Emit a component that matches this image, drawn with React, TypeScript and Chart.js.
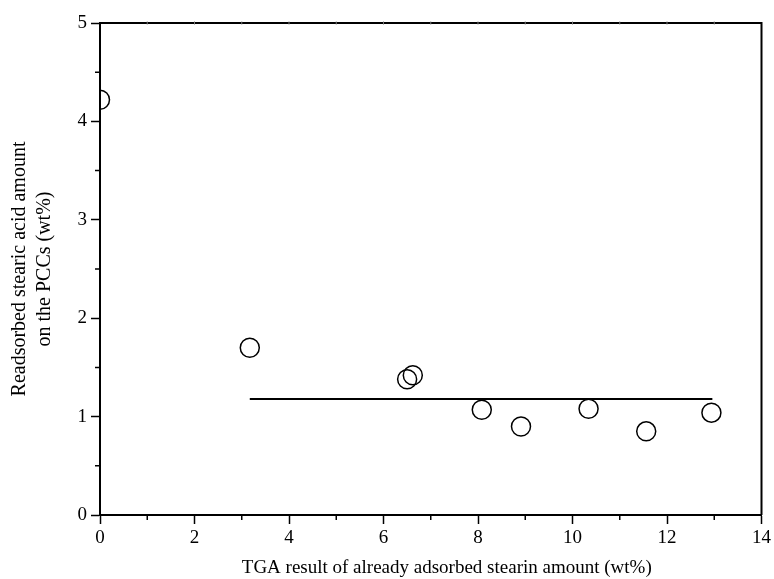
import React, { useEffect, useRef } from "react";
import { Chart, registerables } from "chart.js";

Chart.register(...registerables);

const xValues = [0, 3.17, 6.5, 6.62, 8.08, 8.91, 10.34, 11.56, 12.94];
const yValues = [4.22, 1.7, 1.38, 1.42, 1.07, 0.9, 1.08, 0.85, 1.04];
const fitX = [3.17, 12.96];
const fitY = [1.18, 1.18];
const xMinorTicks = [1, 3, 5, 7, 9, 11, 13];
const yMinorTicks = [0.5, 1.5, 2.5, 3.5, 4.5];
const topTicks = [1, 2, 3, 4, 5, 6, 7, 8, 9, 10, 11, 12, 13];
const xTitle = "TGA result of already adsorbed stearin amount (wt%)";
const yTitle = ["Readsorbed stearic acid amount", "on the PCCs (wt%)"];

const FONT = "'Liberation Serif', 'Times New Roman', serif";

const framePlugin = {
  id: "frame",
  afterDraw(chart: any) {
    const { ctx, chartArea, scales } = chart;
    const xs = scales.x;
    const ys = scales.y;
    ctx.save();
    ctx.strokeStyle = "#000";
    ctx.lineWidth = 2;
    ctx.beginPath();
    ctx.moveTo(chartArea.left, chartArea.top);
    ctx.lineTo(chartArea.right, chartArea.top);
    ctx.lineTo(chartArea.right, chartArea.bottom);
    ctx.stroke();
    ctx.lineWidth = 1.5;
    ctx.beginPath();
    for (const v of xMinorTicks) {
      const px = xs.getPixelForValue(v);
      ctx.moveTo(px, chartArea.bottom);
      ctx.lineTo(px, chartArea.bottom + 5);
    }
    for (const v of yMinorTicks) {
      const py = ys.getPixelForValue(v);
      ctx.moveTo(chartArea.left, py);
      ctx.lineTo(chartArea.left - 5, py);
    }
    ctx.stroke();
    ctx.lineWidth = 1;
    ctx.strokeStyle = "#777";
    ctx.beginPath();
    for (const v of topTicks) {
      const px = xs.getPixelForValue(v);
      ctx.moveTo(px, chartArea.top - 1.5);
      ctx.lineTo(px, chartArea.top + 1.5);
    }
    ctx.stroke();
    // x-axis title (slightly right of the plot centre, as in the source figure)
    ctx.fillStyle = "#000";
    ctx.font = `19px ${FONT}`;
    ctx.textAlign = "center";
    ctx.textBaseline = "middle";
    ctx.fillText(xTitle, (chartArea.left + chartArea.right) / 2 + 16, xs.bottom - 11);
    ctx.restore();
  },
};

export default function App() {
  const ref = useRef<HTMLCanvasElement>(null);
  useEffect(() => {
    if (!ref.current) return;
    const chart = new Chart(ref.current, {
      type: "scatter",
      data: {
        datasets: [
          {
            label: "fit",
            type: "line",
            data: fitX.map((x, i) => ({ x, y: fitY[i] })),
            borderColor: "#000",
            borderWidth: 2,
            pointRadius: 0,
            fill: false,
          } as any,
          {
            label: "data",
            data: xValues.map((x, i) => ({ x, y: yValues[i] })),
            pointStyle: "circle",
            pointRadius: 9.5,
            pointBorderWidth: 1.5,
            pointBorderColor: "#000",
            pointBackgroundColor: "rgba(255,255,255,0)",
            showLine: false,
          },
        ],
      },
      options: {
        animation: false,
        responsive: false,
        maintainAspectRatio: false,
        layout: { padding: { top: 23, right: 11, left: 0, bottom: 0 } },
        plugins: {
          legend: { display: false },
          tooltip: { enabled: false },
        },
        scales: {
          x: {
            type: "linear",
            min: 0,
            max: 14,
            afterFit: (s: any) => {
              s.height = 64;
            },
            ticks: {
              stepSize: 2,
              color: "#000",
              padding: 3,
              font: { family: FONT, size: 19 },
            },
            grid: {
              drawOnChartArea: false,
              drawTicks: true,
              tickLength: 9,
              tickColor: "#000",
              tickWidth: 1.5,
            },
            border: { color: "#000", width: 2 },
            title: { display: false, text: xTitle },
          },
          y: {
            type: "linear",
            min: 0,
            max: 5,
            afterFit: (s: any) => {
              s.width = 100;
            },
            ticks: {
              stepSize: 1,
              color: "#000",
              padding: 4,
              font: { family: FONT, size: 19 },
            },
            grid: {
              drawOnChartArea: false,
              drawTicks: true,
              tickLength: 9,
              tickColor: "#000",
              tickWidth: 1.5,
            },
            border: { color: "#000", width: 2 },
            title: {
              display: true,
              text: yTitle,
              color: "#000",
              font: { family: FONT, size: 20, lineHeight: 1.25 },
              padding: { top: 7, bottom: 0 },
            },
          },
        },
      },
      plugins: [framePlugin],
    });
    return () => chart.destroy();
  }, []);
  return (
    <div style={{ position: "absolute", left: 0, top: 0, width: 774, height: 579, background: "#fff" }}>
      <canvas ref={ref} width={774} height={579} style={{ display: "block" }} />
    </div>
  );
}
